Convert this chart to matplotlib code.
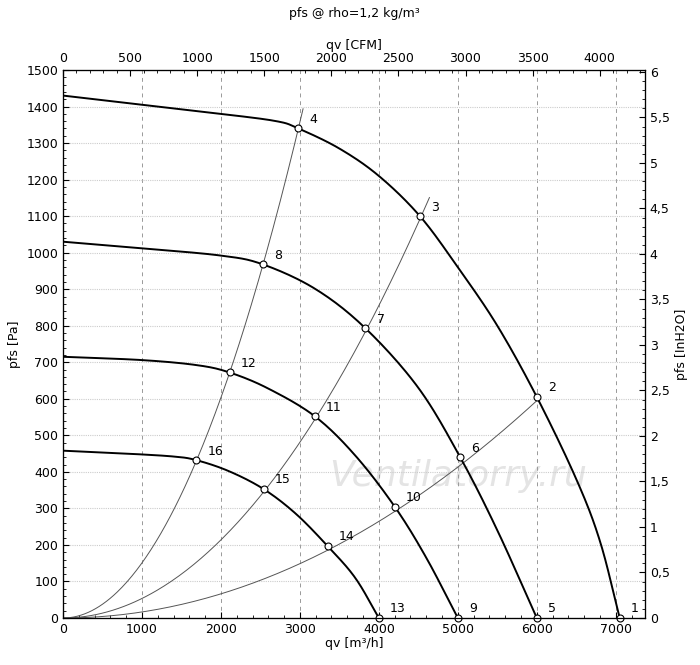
import numpy as np
import matplotlib
matplotlib.use("Agg")
import matplotlib.pyplot as plt
from matplotlib.ticker import MultipleLocator

# Fan curves (qv m3/h, pfs Pa)
c1_q = [0, 1000, 2000, 2700, 2980, 3500, 4000, 4520, 5000, 5500, 6000, 6500, 6800, 7050]
c1_p = [1430, 1405, 1380, 1360, 1340, 1285, 1210, 1100, 960, 800, 605, 380, 210, 0]
c2_q = [0, 1000, 2000, 2530, 3200, 3830, 4500, 5030, 5500, 6000]
c2_p = [1030, 1012, 992, 968, 900, 793, 630, 440, 240, 0]
c3_q = [0, 1000, 1700, 2110, 2600, 3190, 3700, 4200, 4600, 5000]
c3_p = [715, 706, 692, 672, 628, 552, 445, 305, 165, 0]
c4_q = [0, 800, 1400, 1690, 2100, 2540, 2950, 3350, 3700, 4000]
c4_p = [458, 450, 442, 432, 402, 353, 285, 197, 110, 0]

# Operating points
pt_labels = ["1", "2", "3", "4", "5", "6", "7", "8", "9", "10", "11", "12", "13", "14", "15", "16"]
pt_q = [7050, 6000, 4520, 2980, 6000, 5030, 3830, 2530, 5000, 4200, 3190, 2110, 4000, 3350, 2540, 1690]
pt_p = [0, 605, 1100, 1340, 0, 440, 793, 968, 0, 305, 552, 672, 0, 197, 353, 432]

# System curves: through points and end value
sys_pts = [([1690, 2110, 2530, 2980], 3040), ([2540, 3190, 3830, 4520], 4640), ([3350, 4200, 5030, 6000], 6000)]
sys_p = [[432, 672, 968, 1340], [353, 552, 793, 1100], [197, 305, 440, 605]]

def catmull(x, y, n=20):
    x = np.asarray(x, float); y = np.asarray(y, float)
    P = np.column_stack([x, y])
    P = np.vstack([2*P[0]-P[1], P, 2*P[-1]-P[-2]])
    out = []
    for i in range(1, len(P)-2):
        p0, p1, p2, p3 = P[i-1], P[i], P[i+1], P[i+2]
        t = np.linspace(0, 1, n, endpoint=False)[:, None]
        out.append(0.5*((2*p1) + (-p0+p2)*t + (2*p0-5*p1+4*p2-p3)*t**2 + (-p0+3*p1-3*p2+p3)*t**3))
    out.append(P[-2][None, :])
    o = np.vstack(out)
    return o[:, 0], o[:, 1]

fig = plt.figure(figsize=(7, 6.65), dpi=100)
ax = fig.add_axes([63/700, 1-618/665, 582/700, 548/665])
xmax = 7370
ax.set_xlim(0, xmax); ax.set_ylim(0, 1500)
ax.set_xticks(range(0, 8000, 1000)); ax.set_yticks(range(0, 1501, 100))
ax.yaxis.set_minor_locator(MultipleLocator(20))
ax.xaxis.set_minor_locator(MultipleLocator(200))
ax.xaxis.grid(True, color="#999999", linestyle=(0, (4, 4)), linewidth=0.7)
ax.yaxis.grid(True, color="#cccccc", linestyle=(0, (1, 1)), linewidth=0.8)
ax.tick_params(labelsize=9, direction="in", length=4)
ax.tick_params(which="minor", direction="in", length=2)
ax.set_xlabel("qv [m³/h]", fontsize=9, labelpad=1)
ax.set_ylabel("pfs [Pa]", fontsize=9)

for (q, xe), p in zip(sys_pts, sys_p):
    k = np.polyfit(np.array(q)**2, p, 1)[0]
    xs = np.linspace(0, xe, 200)
    ax.plot(xs, k*xs**2, color="#555555", lw=0.7)

for q, p in [(c1_q, c1_p), (c2_q, c2_p), (c3_q, c3_p), (c4_q, c4_p)]:
    xs, ys = catmull(q, p)
    ax.plot(xs, ys, color="black", lw=1.4)

ax.plot(pt_q, pt_p, "o", ms=5, mfc="white", mec="black", mew=0.8, zorder=5, clip_on=False)
for l, q, p in zip(pt_labels, pt_q, pt_p):
    ax.annotate(l, (q, p), xytext=(8, 4), textcoords="offset points", fontsize=9)

ax.text(5000, 390, "Ventilatorry.ru", fontsize=26, style="italic", color="#e4e4e4",
        ha="center", va="center", zorder=0)

top = ax.twiny()
cf = 1.699
top.set_xlim(0, xmax/cf)
top.set_xticks(range(0, 4001, 500))
top.xaxis.set_minor_locator(MultipleLocator(100))
top.tick_params(labelsize=9, length=4, direction="in")
top.tick_params(which="minor", direction="in", length=2)
top.set_xlabel("qv [CFM]", fontsize=9, labelpad=2)
fig.text(354/700, 1-14/665, "pfs @ rho=1,2 kg/m³", ha="center", va="center", fontsize=9)

right = ax.twinx()
right.set_ylim(0, 1500/249.09)
right.set_yticks(np.arange(0, 6.01, 0.5))
right.yaxis.set_minor_locator(MultipleLocator(0.1))
right.set_yticklabels([("%g" % v).replace(".", ",") for v in np.arange(0, 6.01, 0.5)])
right.tick_params(labelsize=9, length=4, direction="in")
right.tick_params(which="minor", direction="in", length=2)
right.set_ylabel("pfs [InH2O]", fontsize=9)

fig.savefig("out.png", dpi=100)
